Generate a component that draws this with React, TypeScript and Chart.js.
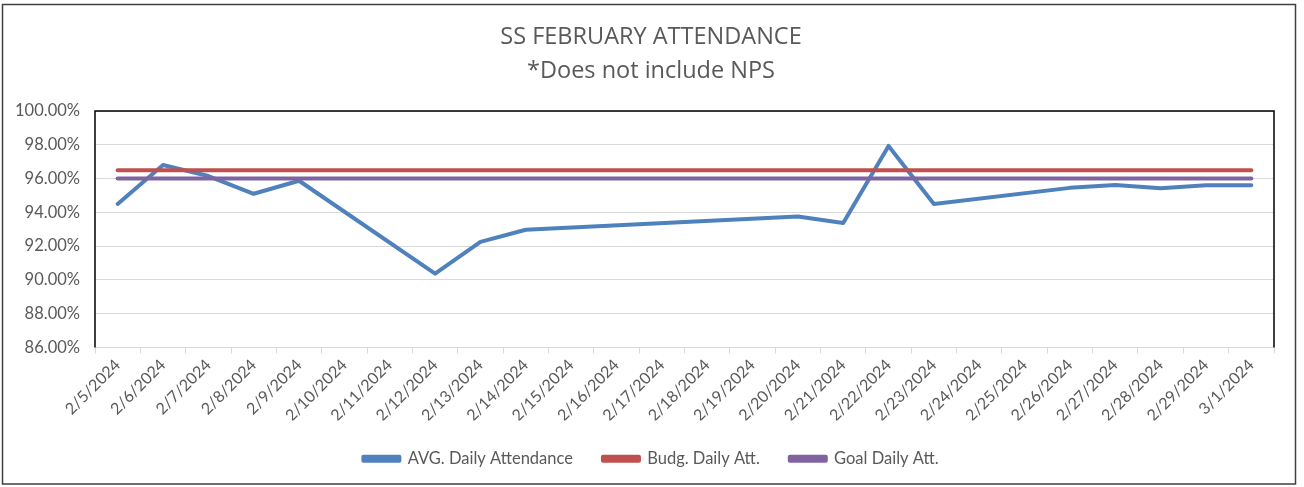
import React, { useEffect, useRef } from 'react';
import { Chart, registerables } from 'chart.js';

Chart.register(...registerables);

const categories = [
  '2/5/2024', '2/6/2024', '2/7/2024', '2/8/2024', '2/9/2024', '2/10/2024', '2/11/2024',
  '2/12/2024', '2/13/2024', '2/14/2024', '2/15/2024', '2/16/2024', '2/17/2024', '2/18/2024',
  '2/19/2024', '2/20/2024', '2/21/2024', '2/22/2024', '2/23/2024', '2/24/2024', '2/25/2024',
  '2/26/2024', '2/27/2024', '2/28/2024', '2/29/2024', '3/1/2024',
];

const avgDailyAttendance = [
  94.5, 96.8, 96.15, 95.1, 95.87, null, null,
  90.37, 92.25, 92.97, null, null, null, null,
  null, 93.75, 93.37, 97.93, 94.5, null, null,
  95.45, 95.62, 95.43, 95.6, 95.6,
];

const budgDailyAtt = [
  96.5, 96.5, 96.5, 96.5, 96.5, 96.5, 96.5,
  96.5, 96.5, 96.5, 96.5, 96.5, 96.5, 96.5,
  96.5, 96.5, 96.5, 96.5, 96.5, 96.5, 96.5,
  96.5, 96.5, 96.5, 96.5, 96.5,
];

const goalDailyAtt = [
  96, 96, 96, 96, 96, 96, 96,
  96, 96, 96, 96, 96, 96, 96,
  96, 96, 96, 96, 96, 96, 96,
  96, 96, 96, 96, 96,
];

const yMin = 86;
const yMax = 100;
const yStep = 2;

const titleLines = ['SS FEBRUARY ATTENDANCE', '*Does not include NPS'];
const seriesNames = ['AVG. Daily Attendance', 'Budg. Daily Att.', 'Goal Daily Att.'];

const FONT = 'Lato, "Open Sans", "DejaVu Sans", sans-serif';
const TITLE_FONT = '"Open Sans", Lato, "DejaVu Sans", sans-serif';
const TEXT = '#595959';
const GRID = '#d9d9d9';
const BLUE = '#4f81bd';
const RED = '#c0504d';
const PURPLE = '#8064a2';

const framePlugin = {
  id: 'frame',
  afterDraw(chart: any) {
    const { ctx, chartArea: a } = chart;
    ctx.save();
    ctx.strokeStyle = '#000000';
    ctx.lineWidth = 1.5;
    ctx.beginPath();
    ctx.moveTo(a.left, a.bottom);
    ctx.lineTo(a.left, a.top);
    ctx.lineTo(a.right, a.top);
    ctx.lineTo(a.right, a.bottom);
    ctx.stroke();
    ctx.strokeStyle = '#404040';
    ctx.lineWidth = 1.5;
    ctx.strokeRect(2.5, 4.5, 1293, 479.5);
    ctx.restore();
  },
};

export default function App() {
  const canvasRef = useRef<HTMLCanvasElement | null>(null);

  useEffect(() => {
    const canvas = canvasRef.current;
    if (!canvas) return;
    const lineStyle = {
      borderWidth: 4,
      pointRadius: 0,
      pointHoverRadius: 0,
      tension: 0,
      borderCapStyle: 'round' as const,
      borderJoinStyle: 'round' as const,
      spanGaps: true,
      fill: false,
    };
    const chart = new Chart(canvas, {
      type: 'line',
      data: {
        labels: categories,
        datasets: [
          { label: seriesNames[0], data: avgDailyAttendance, borderColor: BLUE, backgroundColor: BLUE, order: 3, yAxisID: 'y', ...lineStyle },
          { label: seriesNames[1], data: budgDailyAtt, borderColor: RED, backgroundColor: RED, order: 2, yAxisID: 'y', ...lineStyle },
          { label: seriesNames[2], data: goalDailyAtt, borderColor: PURPLE, backgroundColor: PURPLE, order: 1, yAxisID: 'y', ...lineStyle },
        ],
      },
      options: {
        animation: false,
        responsive: false,
        devicePixelRatio: 1,
        layout: { padding: { left: 14, right: 16, top: 0, bottom: 10 } },
        plugins: {
          tooltip: { enabled: false },
          title: {
            display: true,
            text: titleLines,
            color: TEXT,
            font: { family: TITLE_FONT, size: 23.5, weight: 'normal', lineHeight: 34 / 23.5 },
            padding: { top: 20, bottom: 23 },
          },
          legend: {
            position: 'bottom',
            labels: {
              color: TEXT,
              font: { family: FONT, size: 16.5 },
              boxWidth: 36,
              boxHeight: 4,
              padding: 30,
              sort: (a: any, b: any) => a.datasetIndex - b.datasetIndex,
            },
          },
        },
        scales: {
          x: {
            offset: true,
            grid: {
              display: true,
              offset: true,
              drawOnChartArea: false,
              drawTicks: true,
              tickLength: 6,
              color: GRID,
              lineWidth: 1,
            },
            border: { color: GRID, width: 1 },
            ticks: {
              autoSkip: false,
              maxRotation: 45,
              minRotation: 45,
              color: TEXT,
              font: { family: FONT, size: 16 },
              padding: 2,
            },
            afterFit(scale: any) {
              scale.height = 73;
            },
          },
          y: {
            position: 'left',
            min: yMin,
            max: yMax,
            ticks: {
              stepSize: yStep,
              color: TEXT,
              font: { family: FONT, size: 16.5 },
              padding: 15,
              callback: (v: any) => Number(v).toFixed(2) + '%',
            },
            grid: { color: GRID, lineWidth: 1, drawTicks: false },
            border: { display: false },
            afterFit(scale: any) {
              scale.width = 81;
            },
          },
          spacer: {
            type: 'linear',
            position: 'right',
            min: 0,
            max: 1,
            grid: { display: false, drawTicks: false },
            border: { display: false },
            ticks: { display: false },
            afterFit(scale: any) {
              scale.width = 14;
            },
          },
        },
      },
      plugins: [framePlugin],
    });
    return () => chart.destroy();
  }, []);

  return (
    <div style={{ position: 'fixed', left: 0, top: 0, width: 1304, height: 487, background: '#ffffff' }}>
      <canvas ref={canvasRef} width={1304} height={487} style={{ width: 1304, height: 487, display: 'block' }} />
    </div>
  );
}
